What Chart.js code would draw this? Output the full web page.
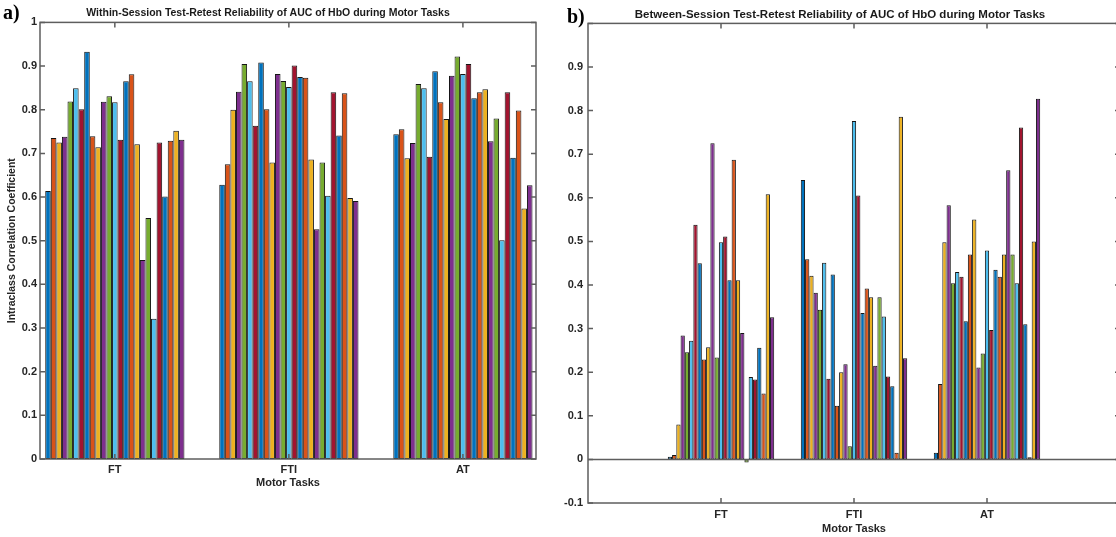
<!DOCTYPE html>
<html>
<head>
<meta charset="utf-8">
<script src="https://cdn.jsdelivr.net/npm/chart.js@4.4.1/dist/chart.umd.min.js"></script>
<style>
    html, body { margin: 0; padding: 0; background: #fff; overflow: hidden; }
    #wrap { position: relative; width: 1116px; height: 537px; overflow: hidden; }
    canvas { position: absolute; top: 0; }
    .panel-tag { position: absolute; font: bold 20px "Liberation Serif", "Times New Roman", serif; line-height: 20px; color: #000; }
</style>
</head>
<body>
<div id="wrap">
    <canvas id="withinChart" width="560" height="537" style="left:0"></canvas>
    <canvas id="betweenChart" width="560" height="537" style="left:560px"></canvas>
    <div class="panel-tag" style="left:3px; top:2px">a)</div>
    <div class="panel-tag" style="left:567px; top:6px">b)</div>
</div>
<script>
const tasks = ['FT', 'FTI', 'AT'];
const taskPositions = [1, 2, 3];

// 25 bars per task, MATLAB colour order
const withinFT = [0.614, 0.735, 0.725, 0.738, 0.819, 0.849, 0.801, 0.933, 0.739, 0.714, 0.818, 0.831, 0.817, 0.731, 0.865, 0.881, 0.721, 0.456, 0.552, 0.321, 0.725, 0.601, 0.729, 0.752, 0.731];
const withinFTI = [0.628, 0.675, 0.800, 0.841, 0.905, 0.865, 0.763, 0.908, 0.801, 0.679, 0.882, 0.866, 0.852, 0.901, 0.875, 0.873, 0.686, 0.526, 0.679, 0.603, 0.840, 0.741, 0.838, 0.598, 0.591];
const withinAT = [0.744, 0.755, 0.689, 0.724, 0.859, 0.849, 0.692, 0.888, 0.817, 0.779, 0.878, 0.922, 0.882, 0.905, 0.826, 0.840, 0.847, 0.728, 0.780, 0.501, 0.840, 0.690, 0.798, 0.574, 0.627];

const betweenFT = [0.006, 0.010, 0.080, 0.284, 0.246, 0.272, 0.538, 0.450, 0.229, 0.257, 0.725, 0.234, 0.498, 0.511, 0.411, 0.687, 0.411, 0.290, -0.007, 0.189, 0.183, 0.256, 0.151, 0.608, 0.326];
const betweenFTI = [0.641, 0.459, 0.421, 0.382, 0.343, 0.451, 0.185, 0.424, 0.123, 0.200, 0.218, 0.030, 0.776, 0.605, 0.336, 0.392, 0.372, 0.215, 0.372, 0.328, 0.190, 0.168, 0.015, 0.786, 0.232];
const betweenAT = [0.015, 0.173, 0.498, 0.583, 0.404, 0.430, 0.419, 0.317, 0.470, 0.550, 0.211, 0.243, 0.479, 0.297, 0.435, 0.419, 0.470, 0.663, 0.470, 0.404, 0.761, 0.310, 0.005, 0.500, 0.827];

const withinTicks = [0, 0.1, 0.2, 0.3, 0.4, 0.5, 0.6, 0.7, 0.8, 0.9, 1];
const betweenTicks = [-0.1, 0, 0.1, 0.2, 0.3, 0.4, 0.5, 0.6, 0.7, 0.8, 0.9];

const barColors = ['#0072BD', '#D95319', '#EDB120', '#7E2F8E', '#77AC30', '#4DBEEE', '#A2142F'];

Chart.defaults.font.family = '"Liberation Sans", Arial, sans-serif';
Chart.defaults.color = '#262626';

const axisColor = '#5e5e5e';
const tickLen = 5;

// MATLAB style box with inward ticks
const matlabAxes = {
    id: 'matlabAxes',
    afterDatasetsDraw(chart, args, opts) {
        const ctx = chart.ctx;
        const a = chart.chartArea;
        const x = chart.scales.x;
        const y = chart.scales.y;
        ctx.save();
        ctx.strokeStyle = axisColor;
        ctx.lineWidth = 1.5;
        if (opts.zeroLine) {
            const py = y.getPixelForValue(0);
            ctx.beginPath();
            ctx.moveTo(a.left, py);
            ctx.lineTo(a.right, py);
            ctx.stroke();
        }
        ctx.strokeRect(a.left, a.top, a.right - a.left, a.bottom - a.top);
        ctx.beginPath();
        y.ticks.forEach(t => {
            const py = y.getPixelForValue(t.value);
            ctx.moveTo(a.left, py); ctx.lineTo(a.left + tickLen, py);
            ctx.moveTo(a.right, py); ctx.lineTo(a.right - tickLen, py);
        });
        x.ticks.forEach(t => {
            const px = x.getPixelForValue(t.value);
            ctx.moveTo(px, a.bottom); ctx.lineTo(px, a.bottom - tickLen);
            ctx.moveTo(px, a.top); ctx.lineTo(px, a.top + tickLen);
        });
        ctx.stroke();
        ctx.restore();
    }
};

function buildDatasets(ft, fti, at) {
    const groups = [ft, fti, at];
    return ft.map((_, i) => ({
        data: groups.map((g, k) => ({ x: taskPositions[k], y: g[i] })),
        backgroundColor: barColors[i % barColors.length],
        borderColor: '#151515',
        borderWidth: 1,
        borderSkipped: false,
        categoryPercentage: 0.8,
        barPercentage: 1.0
    }));
}

function createPanel(canvasId, cfg) {
    const ctx = document.getElementById(canvasId).getContext('2d');
    return new Chart(ctx, {
        type: 'bar',
        data: { datasets: buildDatasets(cfg.ft, cfg.fti, cfg.at) },
        plugins: [matlabAxes],
        options: {
            responsive: false,
            animation: false,
            layout: { padding: { left: 0, right: cfg.padRight, top: 0, bottom: 0 } },
            plugins: {
                legend: { display: false },
                tooltip: { enabled: false },
                title: {
                    display: true,
                    text: cfg.title,
                    font: { size: cfg.titleSize, weight: 'bold' },
                    color: '#1a1a1a',
                    padding: cfg.titlePad
                },
                matlabAxes: { zeroLine: cfg.zeroLine }
            },
            scales: {
                x: {
                    type: 'linear',
                    offset: false,
                    min: cfg.xMin,
                    max: cfg.xMax,
                    grid: { display: false, drawTicks: false },
                    border: { display: false },
                    afterBuildTicks: scale => { scale.ticks = taskPositions.map(v => ({ value: v })); },
                    afterFit: scale => { scale.height = cfg.xHeight; },
                    ticks: {
                        padding: cfg.xTickPad,
                        font: { size: 11, weight: 'bold' },
                        callback: v => tasks[taskPositions.indexOf(v)]
                    },
                    title: {
                        display: true,
                        text: 'Motor Tasks',
                        font: { size: 11, weight: 'bold' },
                        padding: { top: 0, bottom: cfg.xTitlePad }
                    }
                },
                y: {
                    min: cfg.yTicks[0] === 0 ? 0 : -0.1,
                    max: 1,
                    grid: { display: false, drawTicks: false },
                    border: { display: false },
                    afterBuildTicks: scale => {
                        scale.ticks = cfg.yTicks.concat(cfg.yTicks.includes(1) ? [] : [1]).map(v => ({ value: v }));
                    },
                    afterFit: scale => { scale.width = cfg.yWidth; },
                    ticks: {
                        padding: cfg.yTickPad,
                        font: { size: 11, weight: 'bold' },
                        callback: v => cfg.yTicks.includes(v) ? String(Math.round(v * 10) / 10) : ''
                    },
                    title: {
                        display: !!cfg.yTitle,
                        text: cfg.yTitle || '',
                        font: { size: 10.5, weight: 'bold' },
                        padding: { top: 6, bottom: 0 }
                    }
                }
            }
        }
    });
}

createPanel('withinChart', {
    ft: withinFT, fti: withinFTI, at: withinAT,
    title: 'Within-Session Test-Retest Reliability of AUC of HbO during Motor Tasks',
    titleSize: 10.5,
    titlePad: { top: 7, bottom: 2.8 },
    yTitle: 'Intraclass Correlation Coefficient',
    yTicks: withinTicks,
    xMin: 0.57, xMax: 3.42,
    padRight: 24,
    yWidth: 40, yTickPad: 3,
    xHeight: 78, xTickPad: 4, xTitlePad: 47,
    zeroLine: false
});

createPanel('betweenChart', {
    ft: betweenFT, fti: betweenFTI, at: betweenAT,
    title: 'Between-Session Test-Retest Reliability of AUC of HbO during Motor Tasks',
    titleSize: 11.5,
    titlePad: { top: 8, bottom: 1.6 },
    yTitle: null,
    yTicks: betweenTicks,
    xMin: 0, xMax: 4,
    padRight: 0,
    yWidth: 28, yTickPad: 5,
    xHeight: 34, xTickPad: 5, xTitlePad: 1.5,
    zeroLine: true
});
</script>
</body>
</html>
